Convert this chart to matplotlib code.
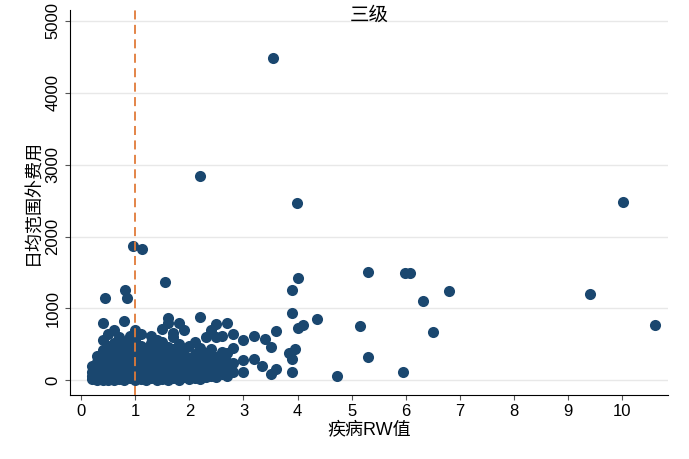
import matplotlib.pyplot as plt

plt.rcParams['font.family'] = ['Liberation Sans', 'Noto Sans CJK SC']

# 离群点
outlier_x = [3.55, 2.2, 3.98, 10.02, 0.95, 1.12, 1.55, 0.45, 0.82, 0.85, 5.3, 5.98, 6.08, 6.8,
             6.32, 9.4, 10.6, 5.15, 6.5, 5.3, 5.95, 4.72, 4.0, 3.9, 3.9, 4.35, 4.0, 4.1, 3.95,
             3.85, 3.6, 3.9, 3.9, 3.4, 3.5, 3.35, 3.5, 3.6]
outlier_y = [4490, 2840, 2470, 2480, 1870, 1830, 1370, 1150, 1250, 1150, 1510, 1490, 1490, 1240,
             1100, 1200, 770, 760, 670, 320, 110, 60, 1430, 1250, 930, 860, 730, 770, 430,
             380, 680, 300, 110, 580, 470, 200, 90, 160]

# 密集区，按 RW 值分列
cluster_cols = [0.2, 0.3, 0.4, 0.5, 0.6, 0.7, 0.8, 0.9, 1.0, 1.1, 1.2, 1.3, 1.4, 1.5, 1.6,
                1.7, 1.8, 1.9, 2.0, 2.1, 2.2, 2.3, 2.4, 2.5, 2.6, 2.7, 2.8, 3.0, 3.2]
cluster_vals = [
    [20, 60, 120, 200],
    [10, 50, 100, 180, 260, 340],
    [0, 40, 90, 150, 220, 300, 420, 560, 800],
    [10, 60, 130, 200, 280, 380, 480, 650],
    [0, 50, 110, 170, 250, 330, 420, 520, 700],
    [20, 80, 140, 210, 290, 370, 460, 600],
    [0, 60, 120, 190, 260, 350, 440, 540, 820],
    [30, 90, 160, 230, 310, 400, 500, 620],
    [0, 50, 110, 180, 250, 330, 420, 560, 700],
    [20, 80, 150, 220, 300, 380, 480, 650],
    [10, 70, 130, 200, 270, 350, 450],
    [30, 90, 160, 240, 320, 400, 520, 620],
    [0, 60, 120, 190, 260, 340, 430, 560],
    [20, 80, 150, 230, 310, 400, 540, 720],
    [10, 70, 140, 210, 290, 380, 470, 800, 870],
    [30, 90, 160, 240, 330, 430, 600, 660],
    [10, 70, 140, 220, 300, 390, 500, 800],
    [40, 100, 170, 250, 330, 420, 700],
    [20, 80, 150, 230, 310, 480],
    [30, 100, 180, 260, 360, 540],
    [20, 90, 170, 250, 340, 450, 880],
    [40, 120, 200, 290, 380, 600],
    [60, 140, 230, 320, 430, 700],
    [40, 130, 220, 320, 600, 780],
    [90, 180, 280, 400, 620],
    [60, 160, 260, 380, 800],
    [120, 240, 450, 650],
    [120, 280, 560],
    [300, 620],
]

xs = list(outlier_x)
ys = list(outlier_y)
for cx, vals in zip(cluster_cols, cluster_vals):
  for v in vals:
    xs.append(cx)
    ys.append(v)

fig = plt.figure(figsize=(6.89, 4.59), dpi=100)
ax = fig.add_axes([0.102, 0.14, 0.868, 0.838])
ax.yaxis.grid(True, color='#e8e8e8', linewidth=1)
ax.set_axisbelow(True)
ax.scatter(xs, ys, s=64, color='#1a476f', zorder=3, linewidths=0)
ax.axvline(1, color='#e07b39', linestyle=(0, (5, 3)), linewidth=1.3, zorder=4)

ax.set_xlim(-0.2, 10.85)
ax.set_ylim(-200, 5150)
ax.set_xticks(range(0, 11))
ax.set_yticks(range(0, 5001, 1000))
for lab in ax.get_yticklabels():
  lab.set_rotation(90)
  lab.set_va('center')
ax.tick_params(labelsize=12, color='#555555')
for s in ['top', 'right']:
  ax.spines[s].set_visible(False)
ax.set_xlabel('疾病RW值', fontsize=13, labelpad=1)
ax.set_ylabel('日均范围外费用', fontsize=13, labelpad=2)
ax.text(0.5, 0.985, '三级', transform=ax.transAxes, ha='center', va='center', fontsize=14)

fig.savefig('out.png')
